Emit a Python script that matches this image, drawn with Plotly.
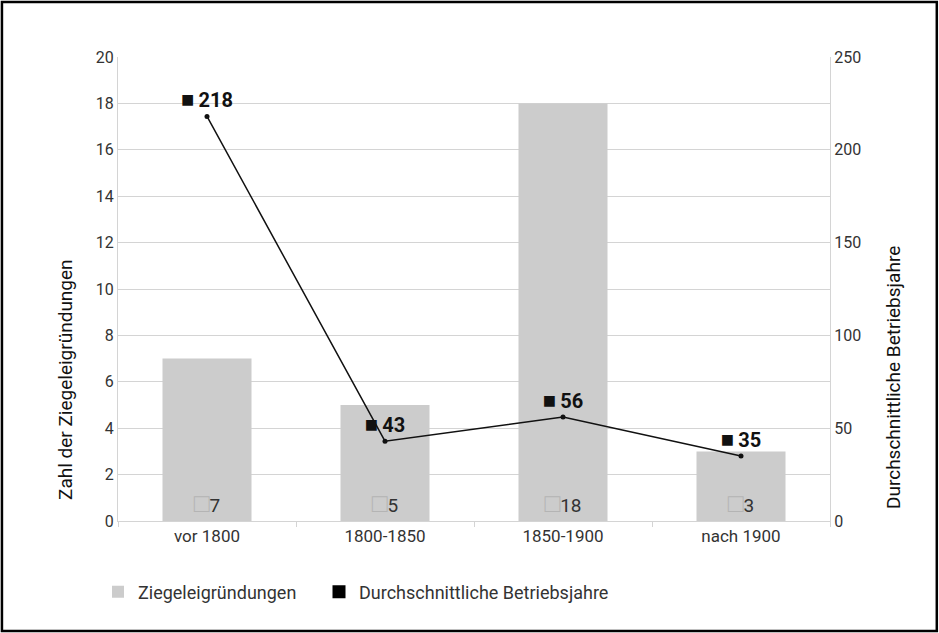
import plotly.graph_objects as go
from plotly.subplots import make_subplots

# data
categories = ["vor 1800", "1800-1850", "1850-1900", "nach 1900"]
gruendungen = [7, 5, 18, 3]
betriebsjahre = [218, 43, 56, 35]
left_ticks = [0, 2, 4, 6, 8, 10, 12, 14, 16, 18, 20]
right_ticks = [0, 50, 100, 150, 200, 250]

FONT = "Roboto, Liberation Sans, sans-serif"
TXT = "#333333"
DARK = "#111111"
GRID = "#d4d4d4"

fig = make_subplots(specs=[[{"secondary_y": True}]])

# Balken (linke Achse)
fig.add_trace(
    go.Bar(x=categories, y=gruendungen, name="Ziegeleigründungen",
           marker=dict(color="#cccccc", line=dict(width=0)),
           text=["<span style='color:#b4b4b4;font-size:26px'>□</span>" + str(v) for v in gruendungen],
           textposition="inside", insidetextanchor="start",
           textfont=dict(family=FONT, size=19, color=TXT),
           width=0.5, legend="legend"),
    secondary_y=False,
)

# Linie (rechte Achse)
fig.add_trace(
    go.Scatter(x=categories, y=betriebsjahre, mode="lines+markers+text",
               name="Durchschnittliche Betriebsjahre",
               line=dict(color=DARK, width=1.5),
               marker=dict(color=DARK, size=5),
               text=["<b><span style='font-size:22px'>■</span>\u2009" + str(v) + "</b>" for v in betriebsjahre],
               textposition="top center",
               textfont=dict(family=FONT, size=20, color=DARK),
               showlegend=False),
    secondary_y=True,
)

# Legendeneintrag mit schwarzem Quadrat
fig.add_trace(
    go.Scatter(x=[None], y=[None], mode="markers", name="Durchschnittliche Betriebsjahre",
               marker=dict(symbol="square", color="#000000", size=13), legend="legend2"),
    secondary_y=True,
)

leg = dict(orientation="h", xref="container", yref="container",
           xanchor="left", yanchor="middle", y=1 - 592 / 633,
           font=dict(family=FONT, size=18, color=TXT), itemwidth=30)

fig.update_layout(
    width=939, height=633,
    margin=dict(l=118, r=109, t=57, b=112),
    paper_bgcolor="white", plot_bgcolor="white",
    font=dict(family=FONT, size=16, color=TXT),
    bargap=0.5,
    legend=dict(leg, x=98 / 939),
    legend2=dict(leg, x=319 / 939),
    shapes=[dict(type="rect", xref="paper", yref="paper",
                 x0=-0.163, x1=1.150, y0=-0.237, y1=1.1185,
                 line=dict(color="black", width=2.5), layer="above")],
    annotations=[
        dict(text="Zahl der Ziegeleigründungen", xref="paper", yref="paper",
             x=(65 - 118) / 712, y=(521 - 380) / 464, textangle=-90,
             showarrow=False, xanchor="center", yanchor="middle",
             font=dict(family=FONT, size=19, color=DARK)),
        dict(text="Durchschnittliche Betriebsjahre", xref="paper", yref="paper",
             x=(893 - 118) / 712, y=(521 - 378) / 464, textangle=-90,
             showarrow=False, xanchor="center", yanchor="middle",
             font=dict(family=FONT, size=19, color=DARK)),
    ],
)

fig.update_xaxes(
    domain=[0, 1],
    showline=True, linecolor=GRID, linewidth=1,
    ticks="outside", tickson="boundaries", ticklen=5, tickcolor=GRID,
    tickfont=dict(family=FONT, size=17, color=TXT),
    showgrid=False, automargin=False,
)

fig.update_yaxes(
    range=[0, 20], tickvals=left_ticks,
    showgrid=True, gridcolor=GRID, gridwidth=1,
    showline=True, linecolor=GRID,
    ticks="", tickfont=dict(family=FONT, size=16, color=TXT),
    zeroline=False, automargin=False,
    secondary_y=False,
)

fig.update_yaxes(
    range=[0, 250], tickvals=right_ticks,
    showgrid=False, showline=True, linecolor=GRID,
    ticks="", tickfont=dict(family=FONT, size=16, color=TXT),
    zeroline=False, automargin=False,
    secondary_y=True,
)

fig.write_html("out.html", config={"displayModeBar": False},
               post_script="document.body.style.margin='0';document.body.style.overflow='hidden';")
